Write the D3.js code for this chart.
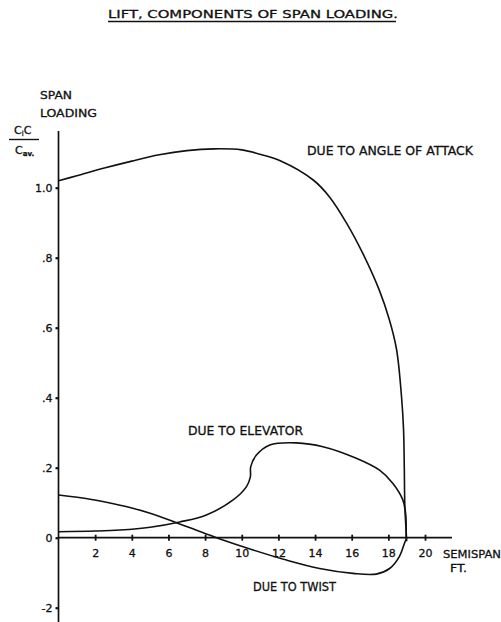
<!DOCTYPE html>
<html>
<head>
<meta charset="utf-8">
<script src="https://cdn.jsdelivr.net/npm/d3@7"></script>
<style>
  body { margin: 0; background: #fff; }
  text { font-family: "DejaVu Sans", sans-serif; fill: #111; stroke: #111; stroke-width: 0.3px; }
</style>
</head>
<body>
<script>
var width = 501, height = 622;

// span loading curves (x = semispan ft, y = c_l c / c_av)
var aoaX = [0, 1, 2.5, 4, 5.5, 7, 8.5, 10, 11.1, 12.1, 13.9, 14.8, 15.72, 16.6, 17.5, 18.06, 18.45, 18.72, 18.83, 18.87, 18.9, 18.97, 19.0];
var aoaY = [1.02, 1.034, 1.056, 1.076, 1.094, 1.106, 1.111, 1.108, 1.094, 1.077, 1.022, 0.973, 0.899, 0.813, 0.708, 0.622, 0.537, 0.402, 0.308, 0.2, 0.09, 0.02, -0.01];

var elevX = [0, 2, 3.35, 5, 6.62, 8.07, 9.53, 10.26, 10.47, 10.49, 10.8, 11.53, 12.98, 14.43, 16.25, 17.52, 18.25, 18.79, 18.94, 18.97];
var elevY = [0.017, 0.019, 0.022, 0.03, 0.045, 0.065, 0.108, 0.146, 0.174, 0.203, 0.236, 0.265, 0.271, 0.26, 0.227, 0.193, 0.155, 0.108, 0.07, 0.0];

var twistX = [0, 1.72, 3, 4, 5, 6.44, 7.5, 8.62, 10.62, 12.44, 14.25, 16.07, 17.34, 18.07, 18.6, 18.88, 19.0];
var twistY = [0.122, 0.11, 0.097, 0.085, 0.07, 0.043, 0.022, 0.0, -0.035, -0.064, -0.088, -0.102, -0.104, -0.088, -0.054, -0.016, 0.0];

var xTicks = [2, 4, 6, 8, 10, 12, 14, 16, 18, 20];
var yTicks = [1.0, 0.8, 0.6, 0.4, 0.2, 0, -0.2];
var yTickLabels = ["1.0", ".8", ".6", ".4", ".2", "0", "-2"];

var x = d3.scaleLinear().domain([0, 20]).range([58.5, 425]);
var y = d3.scaleLinear().domain([0, 1]).range([537.7, 187.7]);

var svg = d3.select("body").append("svg")
  .attr("width", width)
  .attr("height", height);

svg.append("rect").attr("width", width).attr("height", height).attr("fill", "#fff");

// title, underlined
svg.append("text")
  .attr("x", 108).attr("y", 18)
  .attr("textLength", 290).attr("lengthAdjust", "spacingAndGlyphs")
  .style("font-size", "11px")
  .text("LIFT, COMPONENTS OF SPAN LOADING.");
svg.append("line")
  .attr("x1", 108).attr("x2", 396).attr("y1", 21.5).attr("y2", 21.5)
  .attr("stroke", "#111").attr("stroke-width", 1.4);

// axes lines
svg.append("line")
  .attr("x1", x(0)).attr("x2", x(0))
  .attr("y1", y(1.162)).attr("y2", height)
  .attr("stroke", "#111").attr("stroke-width", 1.7);
svg.append("line")
  .attr("x1", x(0)).attr("x2", x(21.47))
  .attr("y1", y(0)).attr("y2", y(0))
  .attr("stroke", "#111").attr("stroke-width", 1.7);

var xAxis = svg.append("g")
  .attr("transform", "translate(0," + y(0) + ")")
  .call(d3.axisBottom(x).tickValues(xTicks).tickSize(3).tickPadding(9).tickFormat(d3.format("d")));
xAxis.select(".domain").remove();
xAxis.selectAll(".tick line").attr("y1", -3).attr("stroke", "#111").attr("stroke-width", 1.8);
xAxis.selectAll(".tick text").style("font-size", "11px").attr("fill", "#111");

var yAxis = svg.append("g")
  .attr("transform", "translate(" + x(0) + ",0)")
  .call(d3.axisLeft(y).tickValues(yTicks).tickSize(3).tickPadding(3)
    .tickFormat(function(d, i) { return yTickLabels[i]; }));
yAxis.select(".domain").remove();
yAxis.selectAll(".tick line").attr("stroke", "#111").attr("stroke-width", 2.2);
yAxis.selectAll(".tick text").style("font-size", "11px").attr("fill", "#111");

// curves
var lineFunction = d3.line()
  .x(function(d) { return x(d[0]); })
  .y(function(d) { return y(d[1]); })
  .curve(d3.curveCatmullRom.alpha(0.5));

[[aoaX, aoaY], [elevX, elevY], [twistX, twistY]].forEach(function(s) {
  svg.append("path")
    .attr("d", lineFunction(d3.zip(s[0], s[1])))
    .attr("fill", "none")
    .attr("stroke", "#111")
    .attr("stroke-width", 1.6);
});

// axis titles and curve labels
function label(txt, x0, yb, len, size) {
  svg.append("text")
    .attr("x", x0).attr("y", yb)
    .attr("textLength", len).attr("lengthAdjust", "spacingAndGlyphs")
    .style("font-size", size + "px")
    .text(txt);
}
label("SPAN", 40, 99, 32, 11);
label("LOADING", 40, 117, 57, 11);
label("DUE TO ANGLE OF ATTACK", 307, 155, 166, 12);
label("DUE TO ELEVATOR", 188, 435, 115, 12);
label("DUE TO TWIST", 253, 591, 83, 12);
label("SEMISPAN", 443, 558, 58, 11);
label("FT.", 450, 572, 17, 11);

// C_l c / C_av fraction
var frac = svg.append("g");
frac.append("text").attr("x", 14).attr("y", 134).style("font-size", "11px")
  .html('C<tspan font-size="7" dy="2">l</tspan><tspan dy="-2">C</tspan>');
frac.append("line").attr("x1", 9).attr("x2", 39).attr("y1", 139.5).attr("y2", 139.5)
  .attr("stroke", "#111").attr("stroke-width", 1.4);
frac.append("text").attr("x", 15).attr("y", 154).style("font-size", "11px")
  .html('C<tspan font-size="7" dy="2" font-weight="bold">av.</tspan>');
</script>
</body>
</html>
